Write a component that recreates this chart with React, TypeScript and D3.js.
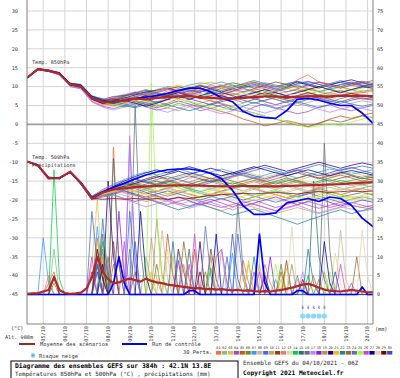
import React from 'react';
import * as d3 from 'd3';

const DATES = ['05/10','06/10','07/10','08/10','09/10','10/10','11/10','12/10','13/10','14/10','15/10','16/10','17/10','18/10','19/10','20/10'];
const LEFT_TICKS = [30,25,20,15,10,5,0,-5,-10,-15,-20,-25,-30,-35,-40,-45];
const RIGHT_TICKS = [75,70,65,60,55,50,45,40,35,30,25,20,15,10,5,0];
const MEMBER_COLORS = ['#ff6633','#80c080','#e0c040','#9050d0','#c05818','#6b8e23','#3399ff','#d2b48c','#4169e1','#c8a060',
  '#8b4513','#ff7070','#e8d890','#00cc44','#2f6f6f','#607080','#c080ff','#8020e0','#a89060','#200080',
  '#f0c000','#2080a0','#996633','#6070b0','#99ff33','#d040d0','#000099','#e8d0b0','#800000','#3050d0'];

// 12-hourly temperatures (0..384h)
const T850_MEAN = [12.3,14.6,14.2,13.4,10.6,10.0,6.9,5.9,5.8,6.4,6.8,6.6,7.0,7.2,7.4,7.5,7.2,7.0,6.8,6.8,7.0,7.2,7.4,7.4,7.2,7.3,7.4,7.5,7.4,7.6,7.5,7.6,7.5];
const T850_CTRL = [12.3,14.6,14.2,13.5,10.5,10.0,6.8,5.8,6.0,6.4,6.8,7.2,7.6,8.2,9.0,9.6,9.6,8.6,7.0,6.0,3.4,2.2,1.8,1.6,3.6,6.6,6.9,6.4,5.6,5.0,5.0,3.0,0.3];
const T850_MEMBERS = [
  [12.3,14.8,14.3,13.6,10.2,9.8,6.6,5.2,5.6,6.8,7.5,8.2,7.6,8.8,9.4,8.6,9.2,10.4,9.6,8.8,9.8,10.2,9.4,8.6,9.6,11.8,13.1,11.2,10.2,9.6,10.4,9.8,10.2],
  [12.3,14.5,14.0,13.2,10.8,10.3,7.2,6.4,7.0,7.8,8.4,7.6,8.0,7.2,6.8,7.6,8.2,7.4,6.6,7.0,7.8,8.6,8.0,7.4,6.8,7.2,8.0,8.8,8.2,7.6,8.4,9.0,8.6],
  [12.3,14.6,14.4,13.0,11.0,10.4,7.6,6.2,5.4,6.0,7.2,8.0,8.8,9.6,8.8,9.4,10.2,9.6,10.0,9.2,8.4,9.0,9.8,10.4,9.6,8.8,9.4,10.0,9.2,9.8,10.6,10.0,9.4],
  [12.3,14.4,14.0,13.8,10.0,9.4,6.0,4.8,4.2,5.0,5.8,4.6,3.8,4.4,5.6,4.8,3.6,4.2,5.2,4.0,3.2,4.6,5.4,4.4,3.6,2.8,3.4,4.6,5.2,4.2,3.6,4.4,5.0],
  [12.3,14.7,14.1,13.4,10.6,10.1,7.0,5.6,5.0,5.8,6.4,5.6,4.8,5.6,6.8,6.0,5.0,4.2,3.4,2.6,1.4,0.6,-0.4,0.2,1.0,0.4,-0.6,0.2,1.4,2.2,1.6,2.4,3.0],
  [12.3,14.6,14.2,13.3,10.4,10.0,6.8,6.0,6.4,7.2,6.6,7.4,8.2,7.6,7.0,7.8,8.6,9.2,8.4,7.8,8.6,9.4,8.8,8.0,8.6,9.2,8.4,7.8,8.4,9.0,8.2,8.8,9.2],
  [12.3,14.5,14.3,13.6,10.9,10.6,7.4,6.6,5.8,6.6,7.8,8.4,9.2,10.0,9.6,10.4,11.0,10.6,11.2,10.4,9.6,10.2,11.0,10.4,9.8,10.6,11.2,10.6,9.8,10.4,11.0,10.2,10.6],
  [12.3,14.7,14.0,13.1,10.3,9.7,6.4,5.4,5.0,6.2,7.0,6.4,5.6,6.4,7.4,8.0,7.2,6.6,7.4,8.2,7.6,6.8,6.2,7.0,7.8,8.4,7.6,6.8,7.4,8.0,7.2,6.6,7.0],
  [12.3,14.6,14.1,13.5,10.5,10.2,7.0,5.8,6.2,5.4,4.6,5.8,7.0,7.8,8.4,9.0,8.4,9.6,10.4,9.8,10.6,11.2,10.4,9.8,10.6,11.4,10.8,10.0,10.8,11.6,10.8,10.2,10.8],
  [12.3,14.5,14.2,13.4,10.7,10.2,7.2,6.2,5.4,4.6,5.2,6.0,5.2,4.4,3.6,4.6,5.6,6.4,5.6,4.8,5.6,6.6,7.4,6.6,5.8,5.0,5.8,6.6,5.8,5.0,5.6,6.2,5.8],
  [12.3,14.8,14.4,13.7,10.4,9.9,6.8,6.0,6.6,7.4,8.2,9.0,8.4,9.2,10.0,9.2,8.6,9.4,10.2,11.0,10.4,9.6,10.4,11.2,10.6,9.8,10.4,11.2,10.6,10.0,10.8,11.4,10.8],
  [12.3,14.6,14.0,13.2,10.1,9.6,6.2,5.0,5.8,6.6,6.0,5.2,6.0,6.8,7.6,8.4,7.8,7.0,7.8,8.6,9.4,8.8,8.0,8.8,9.6,10.4,9.6,8.8,9.4,8.6,7.8,8.4,9.0],
  [12.3,14.5,14.3,13.5,10.6,10.1,6.9,6.4,7.0,6.2,5.6,6.4,7.2,6.4,5.8,6.6,7.4,8.2,7.6,6.8,7.6,8.4,7.8,7.0,6.4,7.2,8.0,7.4,6.6,7.2,7.8,7.0,7.4],
  [12.3,14.7,14.2,13.4,10.5,10.0,7.0,6.0,5.2,4.6,5.4,6.4,7.4,8.2,7.4,6.6,7.6,8.6,9.6,10.4,9.6,8.6,7.8,8.6,9.4,10.2,9.4,8.6,9.4,10.0,9.2,9.8,10.4],
  [12.3,14.6,14.1,13.6,10.8,10.4,7.4,6.8,6.0,5.4,6.2,5.2,4.4,5.2,6.2,5.4,4.6,5.4,6.4,7.2,6.4,5.6,6.4,7.2,6.4,5.8,6.6,7.4,6.6,6.0,6.8,7.6,7.0],
  [12.3,14.5,14.0,13.3,10.4,10.0,6.6,5.6,6.4,7.4,8.4,9.2,8.4,7.6,8.6,9.6,10.4,9.8,9.0,9.8,10.8,11.6,10.8,10.0,10.8,11.4,10.6,9.8,10.6,11.2,10.4,11.0,11.6],
  [12.3,14.8,14.2,13.0,10.0,9.5,6.0,4.6,3.8,4.6,5.6,4.8,4.0,3.2,4.2,5.2,4.4,3.6,2.8,3.6,4.6,3.8,3.0,3.8,4.8,5.6,4.8,4.0,3.2,4.0,4.8,4.2,3.6],
  [12.3,14.6,14.4,13.6,10.6,10.3,7.2,6.2,5.6,6.4,7.4,6.6,5.8,6.6,7.6,6.8,6.0,5.2,6.0,6.8,7.6,6.8,6.0,5.2,6.0,7.0,7.8,7.0,6.2,5.6,6.4,7.0,6.6],
  [12.3,14.5,14.1,13.5,10.5,10.0,6.8,5.6,4.8,5.6,6.6,7.6,6.8,7.8,8.8,8.0,7.2,8.2,9.0,8.2,7.4,8.2,9.2,8.4,7.6,8.6,9.4,8.6,7.8,8.6,9.2,8.4,8.8],
  [12.3,14.7,14.3,13.4,10.2,9.8,6.6,5.4,6.2,7.0,7.8,8.6,9.0,9.6,8.8,9.6,10.2,9.4,8.6,9.4,10.2,11.0,10.2,9.4,10.2,11.2,10.4,9.6,10.4,11.2,11.8,11.0,10.4],
  [12.3,14.6,14.0,13.2,10.6,10.2,7.0,6.2,7.2,8.0,7.2,8.0,8.8,9.6,10.4,9.6,10.6,11.2,10.4,9.6,10.4,11.0,10.2,9.4,10.2,9.6,8.8,9.6,10.4,9.8,9.0,9.6,10.2],
  [12.3,14.5,14.2,13.6,10.9,10.5,7.6,6.6,5.8,5.0,4.4,5.2,6.0,5.2,4.4,3.6,4.4,5.4,4.6,3.8,4.8,5.8,5.0,4.2,5.0,6.0,5.2,4.4,5.2,6.2,5.4,4.8,5.4],
  [12.3,14.7,14.1,13.3,10.3,9.9,6.4,5.8,6.6,7.6,8.4,7.6,6.8,7.8,8.6,7.8,7.0,6.2,5.4,4.6,3.8,3.0,2.2,1.4,0.6,-0.2,-0.6,0.4,1.2,0.6,1.4,2.2,1.8],
  [12.3,14.6,14.3,13.5,10.7,10.3,7.2,6.0,5.4,6.2,7.2,8.2,7.4,6.6,7.4,8.2,9.0,8.2,7.4,6.6,5.8,6.6,7.4,6.6,5.8,6.6,7.6,6.8,6.0,6.8,7.6,6.8,6.4],
  [12.3,14.5,14.0,13.4,10.4,10.0,6.8,5.8,5.2,6.0,7.0,6.2,5.4,4.6,5.4,6.2,5.4,4.6,3.8,4.6,3.8,3.0,2.2,1.4,0.8,0.0,-0.8,-0.4,0.2,-0.4,0.6,1.4,2.0],
  [12.3,14.8,14.2,13.4,10.6,10.2,7.0,6.4,7.0,7.8,8.6,7.8,8.6,9.4,8.6,7.8,8.6,9.4,10.2,9.4,8.6,9.4,10.2,9.4,8.6,9.4,10.4,11.2,10.4,9.6,10.4,11.0,10.4],
  [12.3,14.6,14.1,13.6,10.8,10.4,7.4,6.4,5.6,6.4,5.6,4.8,5.6,6.6,7.4,6.6,7.6,8.4,7.6,6.8,7.6,8.4,9.2,8.4,7.6,8.4,9.2,10.0,9.2,8.4,9.2,10.0,9.6],
  [12.3,14.5,14.3,13.3,10.2,9.8,6.4,5.2,4.6,5.4,6.4,7.2,8.0,7.2,6.4,7.2,8.0,7.2,8.2,9.0,8.2,7.4,8.2,9.0,8.2,7.4,8.2,9.0,8.2,7.6,8.4,9.0,8.6],
  [12.3,14.7,14.2,13.5,10.5,10.1,7.0,6.2,6.8,6.0,6.8,7.6,6.8,7.6,8.4,7.6,6.8,7.6,8.4,7.6,6.8,7.6,8.4,7.6,6.8,7.6,8.4,7.6,7.0,7.6,8.2,7.6,7.2],
  [12.3,14.6,14.0,13.4,10.6,10.2,7.2,6.6,7.4,7.6,8.0,8.6,8.0,7.4,8.0,8.8,9.6,8.8,8.0,8.8,9.8,10.6,9.8,9.0,9.8,10.8,11.4,10.6,9.8,10.6,11.2,10.4,10.0],
];

const T500_MEAN = [-9.8,-10.8,-14.3,-14.2,-12.5,-15.6,-19.6,-18.0,-17.2,-16.9,-16.6,-16.4,-16.3,-16.2,-16.1,-16.1,-16.2,-16.3,-16.4,-16.4,-16.3,-16.3,-16.4,-16.4,-16.3,-16.2,-16.1,-16.0,-15.9,-15.8,-15.6,-15.4,-15.3];
const T500_CTRL = [-9.8,-10.8,-14.2,-14.2,-12.6,-15.6,-19.4,-17.8,-16.6,-15.6,-14.4,-13.4,-12.6,-12.0,-11.8,-11.8,-12.2,-13.0,-14.4,-17.4,-21.6,-23.8,-23.8,-23.4,-20.8,-20.2,-19.6,-20.4,-19.2,-19.6,-21.4,-24.8,-27.0];
const T500_MEMBERS = [
  [-9.8,-10.9,-14.0,-14.4,-12.4,-15.2,-19.0,-17.4,-16.0,-14.8,-15.6,-14.4,-13.6,-14.6,-15.4,-14.2,-13.4,-14.4,-15.2,-14.0,-13.2,-14.0,-14.8,-13.8,-13.0,-12.2,-13.4,-14.2,-13.2,-12.6,-13.6,-14.4,-13.8],
  [-9.8,-10.7,-14.4,-14.0,-12.8,-15.8,-19.8,-18.6,-17.8,-17.0,-16.2,-17.0,-17.8,-17.0,-16.2,-17.0,-17.8,-18.6,-17.8,-17.0,-16.4,-17.2,-18.0,-17.2,-16.4,-17.2,-18.0,-17.2,-16.6,-17.4,-16.6,-16.0,-16.6],
  [-9.8,-10.8,-14.2,-14.3,-12.5,-15.4,-19.2,-18.0,-16.8,-15.6,-14.4,-13.2,-14.0,-14.8,-14.0,-13.2,-14.0,-14.8,-14.0,-13.2,-12.4,-13.2,-14.0,-13.2,-14.0,-14.8,-14.0,-13.2,-14.0,-13.2,-12.6,-13.4,-14.0],
  [-9.8,-11.0,-14.3,-14.1,-12.7,-15.9,-20.0,-19.2,-18.6,-19.6,-20.4,-19.6,-18.8,-19.8,-20.8,-21.6,-20.6,-19.8,-20.8,-21.8,-20.8,-20.0,-21.0,-22.0,-21.2,-20.4,-21.4,-22.2,-21.4,-20.6,-21.4,-22.0,-21.4],
  [-9.8,-10.9,-14.1,-14.2,-12.6,-15.6,-19.4,-18.4,-17.6,-16.8,-17.6,-18.4,-17.6,-16.8,-17.6,-18.4,-19.2,-18.4,-17.6,-16.8,-15.8,-16.8,-17.8,-18.6,-19.4,-18.6,-17.8,-17.0,-17.8,-18.6,-17.8,-17.0,-17.6],
  [-9.8,-10.8,-14.2,-14.3,-12.5,-15.5,-19.3,-18.2,-17.2,-16.4,-15.6,-16.4,-15.6,-14.8,-15.6,-16.4,-15.6,-14.8,-15.6,-16.4,-15.6,-14.8,-15.6,-16.4,-15.6,-14.8,-15.6,-16.4,-15.6,-14.8,-15.4,-16.0,-15.4],
  [-9.8,-10.6,-13.8,-14.4,-12.4,-15.2,-19.0,-17.2,-15.8,-14.6,-13.4,-12.6,-13.4,-12.6,-11.8,-12.6,-13.4,-12.6,-11.8,-12.6,-13.4,-14.2,-13.4,-12.6,-13.4,-14.2,-13.4,-12.6,-11.8,-12.4,-13.2,-12.6,-12.0],
  [-9.8,-10.9,-14.4,-14.0,-12.8,-15.8,-19.6,-18.8,-18.0,-17.2,-18.0,-17.2,-16.4,-17.2,-18.0,-17.2,-16.4,-17.2,-18.0,-18.8,-18.0,-17.2,-16.4,-17.2,-18.0,-17.2,-16.4,-17.2,-18.0,-17.2,-16.6,-17.4,-17.0],
  [-9.8,-10.8,-14.1,-14.3,-12.6,-15.6,-19.4,-18.2,-17.0,-15.8,-14.6,-15.4,-14.6,-13.8,-14.6,-15.4,-16.2,-15.4,-14.6,-13.8,-13.0,-12.2,-11.4,-12.2,-13.0,-12.2,-11.4,-10.6,-11.4,-12.2,-11.6,-11.0,-11.6],
  [-9.8,-10.7,-14.3,-14.2,-12.7,-15.7,-19.5,-18.6,-18.0,-18.8,-19.6,-20.4,-19.6,-20.4,-21.2,-20.4,-21.2,-22.0,-22.8,-22.0,-21.2,-22.0,-22.8,-23.6,-22.8,-22.0,-22.8,-23.6,-22.8,-22.0,-21.4,-22.0,-22.6],
  [-9.8,-10.9,-14.2,-14.1,-12.6,-15.5,-19.2,-17.8,-16.6,-15.8,-16.6,-15.8,-15.0,-15.8,-16.6,-15.8,-15.0,-14.2,-15.0,-15.8,-15.0,-14.2,-15.0,-15.8,-15.0,-14.2,-13.4,-14.2,-15.0,-14.2,-13.6,-14.4,-14.0],
  [-9.8,-10.8,-14.0,-14.4,-12.4,-15.4,-19.3,-18.4,-17.6,-16.8,-16.0,-16.8,-17.6,-18.4,-17.6,-16.8,-16.0,-16.8,-17.6,-16.8,-16.0,-15.2,-16.0,-16.8,-16.0,-15.2,-16.0,-16.8,-16.0,-15.4,-16.2,-15.6,-15.0],
  [-9.8,-10.8,-14.3,-14.2,-12.6,-15.7,-19.6,-18.4,-17.4,-18.2,-19.0,-18.2,-17.4,-18.2,-19.0,-19.8,-19.0,-18.2,-19.0,-19.8,-19.0,-18.2,-19.0,-19.8,-20.6,-19.8,-19.0,-19.8,-20.6,-19.8,-19.0,-19.6,-20.2],
  [-9.8,-10.7,-14.2,-14.3,-12.5,-15.6,-19.4,-18.0,-16.6,-15.4,-16.2,-17.0,-16.2,-15.4,-16.2,-17.0,-17.8,-17.0,-16.2,-15.4,-16.2,-17.0,-16.2,-15.4,-14.6,-15.4,-16.2,-15.4,-14.6,-15.4,-14.8,-14.2,-14.8],
  [-9.8,-10.9,-14.1,-14.2,-12.7,-15.8,-19.8,-19.0,-18.4,-17.6,-18.4,-19.2,-18.4,-17.6,-18.4,-19.2,-20.0,-19.2,-18.4,-19.2,-20.0,-19.2,-18.4,-17.6,-18.4,-19.2,-18.4,-17.6,-18.4,-19.2,-18.6,-18.0,-18.6],
  [-9.8,-10.8,-14.2,-14.2,-12.6,-15.6,-19.4,-18.2,-17.2,-16.2,-15.2,-14.4,-13.6,-14.4,-13.6,-12.8,-13.6,-14.4,-13.6,-12.8,-13.6,-14.4,-15.2,-14.4,-13.6,-12.8,-13.6,-14.4,-13.6,-12.8,-13.4,-14.0,-13.4],
  [-9.8,-10.8,-14.4,-14.0,-12.8,-15.9,-19.8,-19.0,-18.8,-19.8,-20.8,-21.8,-21.0,-20.2,-21.2,-22.2,-21.4,-20.6,-21.6,-22.6,-21.8,-21.0,-22.0,-23.0,-22.2,-21.4,-22.4,-23.4,-22.6,-21.8,-22.4,-23.0,-22.4],
  [-9.8,-10.9,-14.2,-14.3,-12.5,-15.4,-19.2,-18.0,-17.0,-16.0,-17.0,-18.0,-19.0,-20.0,-19.2,-20.2,-21.2,-20.4,-19.6,-20.6,-21.6,-20.8,-20.0,-19.2,-20.2,-21.2,-20.4,-19.6,-20.6,-21.6,-20.8,-20.0,-20.6],
  [-9.8,-10.7,-14.1,-14.2,-12.6,-15.6,-19.4,-18.4,-17.6,-16.8,-16.0,-15.2,-16.0,-16.8,-16.0,-15.2,-14.4,-15.2,-16.0,-16.8,-17.6,-16.8,-16.0,-15.2,-16.0,-16.8,-17.6,-16.8,-16.0,-16.8,-17.4,-16.8,-16.2],
  [-9.8,-10.8,-14.3,-14.2,-12.6,-15.6,-19.4,-18.2,-17.2,-16.4,-15.6,-14.8,-14.0,-13.2,-12.4,-13.2,-12.4,-11.6,-12.4,-13.2,-12.4,-11.6,-10.8,-11.6,-12.4,-11.6,-10.8,-10.0,-10.8,-11.6,-10.8,-10.2,-10.8],
  [-9.8,-10.9,-14.2,-14.1,-12.7,-15.7,-19.6,-18.6,-17.8,-17.0,-17.8,-18.6,-19.4,-18.6,-17.8,-18.6,-19.4,-18.6,-17.8,-18.6,-19.4,-20.2,-19.4,-18.6,-19.4,-20.2,-19.4,-18.6,-17.8,-18.6,-19.4,-18.8,-18.2],
  [-9.8,-10.8,-14.0,-14.4,-12.4,-15.3,-19.1,-17.8,-16.8,-17.6,-18.6,-19.6,-20.6,-21.6,-22.6,-21.8,-21.0,-22.0,-23.0,-24.0,-23.2,-22.4,-23.4,-24.4,-25.4,-26.4,-25.4,-24.4,-23.4,-22.6,-23.6,-22.8,-22.0],
  [-9.8,-10.8,-14.2,-14.2,-12.6,-15.6,-19.4,-18.2,-17.4,-16.6,-15.8,-16.6,-15.8,-15.0,-15.8,-16.6,-15.8,-15.0,-14.2,-15.0,-15.8,-16.6,-15.8,-15.0,-14.2,-15.0,-15.8,-15.0,-14.2,-13.4,-14.2,-15.0,-14.4],
  [-9.8,-10.7,-14.3,-14.1,-12.7,-15.8,-19.7,-18.8,-18.2,-17.4,-16.6,-17.4,-18.2,-19.0,-18.2,-17.4,-18.2,-19.0,-19.8,-19.0,-18.2,-19.0,-19.8,-20.6,-19.8,-19.0,-18.2,-19.0,-19.8,-20.6,-19.8,-19.2,-19.8],
  [-9.8,-10.9,-14.1,-14.3,-12.5,-15.5,-19.3,-18.0,-16.8,-16.0,-16.8,-17.6,-16.8,-16.0,-16.8,-17.6,-18.4,-17.6,-16.8,-17.6,-18.4,-19.2,-18.4,-17.6,-18.4,-19.2,-20.0,-19.2,-18.4,-19.2,-20.0,-19.4,-18.8],
  [-9.8,-10.8,-14.2,-14.2,-12.6,-15.6,-19.4,-18.2,-17.2,-18.0,-18.8,-19.6,-20.4,-21.2,-20.4,-19.6,-20.4,-21.2,-22.0,-21.2,-20.4,-21.2,-22.0,-22.8,-22.0,-21.2,-20.4,-21.2,-22.0,-21.2,-20.6,-21.4,-22.0],
  [-9.8,-10.8,-14.3,-14.2,-12.6,-15.6,-19.4,-18.0,-16.4,-15.0,-13.8,-12.8,-12.0,-12.8,-12.0,-11.2,-12.0,-12.8,-13.6,-12.8,-12.0,-11.2,-12.0,-12.8,-13.6,-12.8,-12.0,-12.8,-13.6,-12.8,-12.2,-12.8,-13.4],
  [-9.8,-10.7,-14.2,-14.3,-12.5,-15.5,-19.3,-18.4,-17.6,-16.8,-17.6,-16.8,-16.0,-16.8,-17.6,-18.4,-17.6,-16.8,-17.6,-18.4,-17.6,-16.8,-17.6,-18.4,-17.6,-16.8,-17.6,-18.4,-17.6,-16.8,-17.4,-18.0,-17.4],
  [-9.8,-10.9,-14.1,-14.2,-12.7,-15.7,-19.6,-19.8,-19.6,-19.8,-19.6,-19.8,-19.6,-19.8,-19.4,-19.6,-19.2,-18.8,-18.6,-18.4,-18.2,-18.4,-18.2,-18.0,-18.2,-18.4,-18.0,-17.8,-18.0,-17.8,-17.6,-17.8,-17.6],
  [-9.8,-10.8,-14.2,-14.2,-12.6,-15.6,-19.4,-18.2,-16.8,-15.6,-14.4,-15.2,-16.0,-15.2,-14.4,-13.6,-14.4,-15.2,-14.4,-13.6,-12.8,-13.6,-14.4,-13.6,-12.8,-12.0,-12.8,-13.6,-12.8,-12.0,-11.4,-12.2,-13.0],
];

// 6-hourly precipitation (0..384h)
const PRECIP_MEAN = [0.2,0.3,0.3,0.8,1.2,4.5,1.2,0.4,0.2,0.3,0.5,1.6,4.5,10.0,6.0,4.0,3.0,3.2,3.8,4.2,3.8,3.4,4.2,3.6,3.2,3.0,2.6,2.4,2.2,2.0,1.8,1.6,1.7,1.4,1.5,1.3,1.4,1.2,1.1,1.2,1.0,1.1,0.9,0.8,0.9,0.8,1.0,1.2,1.5,1.8,2.2,2.6,2.8,2.4,1.8,1.3,1.0,0.9,0.8,1.0,1.2,1.0,0.8,0.6,0.6];
// [step index (6h), mm]
const PRECIP_CTRL_SPIKES = [[16,3],[17,10],[18,3],[30,1],[31,1],[43,16],[44,3],[50,1],[51,1],[62,2]];
const PRECIP_MEMBER_SPIKES = [
  [[4,3],[5,6],[13,15],[14,4],[16,39],[17,8],[40,9],[41,3],[53,5]],
  [[5,12],[22,10],[23,3],[44,6],[50,4]],
  [[12,8],[13,25],[14,6],[27,10],[48,7],[56,3]],
  [[13,12],[14,4],[19,40],[20,10],[30,8],[42,6],[60,3]],
  [[15,10],[20,6],[26,16],[27,5],[31,12],[35,10],[36,12],[37,3]],
  [[5,3],[14,12],[24,8],[33,6],[47,8],[54,4]],
  [[3,15],[4,3],[13,18],[14,5],[28,12],[38,11],[46,4]],
  [[14,8],[25,17],[26,4],[41,8],[58,17],[59,4]],
  [[12,22],[13,8],[19,22],[20,6],[37,10],[39,16],[40,4]],
  [[15,6],[23,15],[24,4],[43,8],[55,6]],
  [[13,6],[16,14],[28,12],[29,6],[34,12],[35,4],[48,9]],
  [[4,5],[14,10],[29,8],[44,8],[45,3]],
  [[13,6],[26,12],[40,5],[57,11],[58,3]],
  [[5,33],[6,4],[14,14],[15,6],[34,7],[52,5]],
  [[13,10],[16,36],[17,8],[30,12],[53,30],[54,10],[55,4]],
  [[14,16],[20,50],[21,12],[39,24],[40,6],[55,40],[56,12]],
  [[15,8],[19,42],[20,8],[36,12],[51,6]],
  [[12,6],[17,22],[18,5],[28,9],[45,10]],
  [[14,12],[24,20],[25,5],[34,10],[49,8]],
  [[13,8],[15,30],[16,10],[32,14],[44,5]],
  [[13,14],[14,8],[23,6],[41,9],[47,4]],
  [[14,20],[15,4],[27,14],[42,10],[52,12],[53,3]],
  [[16,8],[29,14],[30,4],[47,6],[61,10]],
  [[13,8],[19,12],[33,18],[34,5],[50,5]],
  [[14,6],[23,56],[24,20],[25,4],[46,8],[56,6]],
  [[12,10],[18,14],[31,16],[43,6],[58,8]],
  [[14,8],[21,22],[22,5],[35,16],[55,14],[56,3]],
  [[13,5],[26,10],[49,18],[62,17],[63,5]],
  [[5,5],[13,12],[14,4],[32,6],[51,4]],
  [[13,6],[20,14],[38,16],[39,4],[57,6]],
];
const SNOW_STEPS = [51,52,53,54,55];
const LEGEND_NUMBERS = ['01','02','03','04','05','06','07','08','09','10','11','12','13','14','15','16','17','18','19','20','21','22','23','24','25','26','27','28','29','30'];

const W = 400, H = 378;
const PL = 27, PR = 373, PB = 324;
const MONO = '"DejaVu Sans Mono", monospace';

export default function App() {
  const x = d3.scaleLinear().domain([0, 384]).range([PL, PR]);
  const yT = d3.scaleLinear().domain([30, -45]).range([11, 294.5]);
  const yP = d3.scaleLinear().domain([0, 75]).range([294.5, 11]);

  const lineT = d3.line<number>().x((_, i) => x(i * 12)).y(d => yT(d));
  const lineP = d3.line<number>().x((_, i) => x(i * 6)).y(d => yP(d));

  const expand = (spikes: number[][]) => {
    const arr = new Array(65).fill(0);
    spikes.forEach(([i, v]) => { arr[i] = v; });
    return arr;
  };
  const precipMembers = PRECIP_MEMBER_SPIKES.map(expand);
  const precipCtrl = expand(PRECIP_CTRL_SPIKES);

  const dayTicks = DATES.map((_, i) => 18 + i * 24);

  return (
    <svg width={W} height={H} style={{ position: 'absolute', left: 0, top: 0, background: '#fff' }}>
      <rect x={0} y={0} width={W} height={H} fill="#fff" />
      <defs>
        <clipPath id="plot"><rect x={PL} y={0} width={PR - PL} height={PB} /></clipPath>
      </defs>
      {LEFT_TICKS.map(t => (
        <line key={'h' + t} x1={PL} x2={PR} y1={yT(t)} y2={yT(t)} stroke="#d4d4d4" strokeWidth={1} />
      ))}
      {dayTicks.map(h => (
        <line key={'v' + h} x1={x(h)} x2={x(h)} y1={0} y2={PB} stroke="#d4d4d4" strokeWidth={1} />
      ))}
      <line x1={PL} x2={PR} y1={yT(0)} y2={yT(0)} stroke="#a0a0a0" strokeWidth={1.6} />
      <line x1={PL} x2={PR} y1={yP(0)} y2={yP(0)} stroke="#a0a0a0" strokeWidth={1.6} />

      <g clipPath="url(#plot)" fill="none" strokeLinejoin="round">
        {precipMembers.map((d, i) => (
          <path key={'p' + i} d={lineP(d) || ''} stroke={MEMBER_COLORS[i]} strokeWidth={0.75} />
        ))}
        {T500_MEMBERS.map((d, i) => (
          <path key={'b' + i} d={lineT(d) || ''} stroke={MEMBER_COLORS[i]} strokeWidth={0.75} />
        ))}
        {T850_MEMBERS.map((d, i) => (
          <path key={'a' + i} d={lineT(d) || ''} stroke={MEMBER_COLORS[i]} strokeWidth={0.75} />
        ))}
        <path d={lineP(precipCtrl) || ''} stroke="#0000ff" strokeWidth={1.7} />
        <path d={lineT(T500_CTRL) || ''} stroke="#0000ff" strokeWidth={1.7} />
        <path d={lineT(T850_CTRL) || ''} stroke="#0000ff" strokeWidth={1.7} />
        <path d={lineP(PRECIP_MEAN) || ''} stroke="#b02828" strokeWidth={2.2} />
        <path d={lineT(T500_MEAN) || ''} stroke="#b02828" strokeWidth={2.2} />
        <path d={lineT(T850_MEAN) || ''} stroke="#b02828" strokeWidth={2.2} />
      </g>

      <line x1={PL} x2={PL} y1={0} y2={PB} stroke="#808080" strokeWidth={1} />
      <line x1={PR} x2={PR} y1={0} y2={PB} stroke="#808080" strokeWidth={1} />
      <line x1={PL} x2={PR} y1={PB} y2={PB} stroke="#808080" strokeWidth={1} />

      {SNOW_STEPS.map(s => (
        <g key={'s' + s}>
          <circle cx={x(s * 6)} cy={316} r={2.6} fill="#8fd8f8" />
          <text x={x(s * 6)} y={309} fontSize={4.5} fontFamily={MONO} fill="#3030e0" textAnchor="middle">ŝ</text>
        </g>
      ))}

      <g fontFamily={MONO} fontSize={5.2} fill="#333">
        {LEFT_TICKS.map(t => (
          <text key={'lt' + t} x={18} y={yT(t) + 1.8} textAnchor="end">{t}</text>
        ))}
        {RIGHT_TICKS.map(t => (
          <text key={'rt' + t} x={377} y={yP(t) + 1.8}>{t}</text>
        ))}
        {DATES.map((d, i) => (
          <text key={'d' + d} transform={`translate(${x(dayTicks[i]) + 1.8},326) rotate(-90)`} textAnchor="end">{d}</text>
        ))}
        <text x={11} y={330}>(°C)</text>
        <text x={5} y={339}>Alt. 988m</text>
        <text x={375} y={331}>(mm)</text>
        <text x={32} y={63.5}>Temp. 850hPa</text>
        <text x={32} y={158.5}>Temp. 500hPa</text>
        <text x={32} y={166.5}>Précipitations</text>
      </g>

      <line x1={19} x2={35} y1={344} y2={344} stroke="#a02828" strokeWidth={2} />
      <text x={40} y={346} fontFamily={MONO} fontSize={5.4} fill="#333">Moyenne des scénarios</text>
      <line x1={122} x2={147} y1={344} y2={344} stroke="#0000ff" strokeWidth={2} />
      <text x={152} y={346} fontFamily={MONO} fontSize={5.4} fill="#333">Run de contrôle</text>
      <circle cx={33} cy={355.5} r={2.4} fill="#8fd8f8" />
      <circle cx={33} cy={355.5} r={0.9} fill="#3a9ad8" />
      <text x={39} y={357.5} fontFamily={MONO} fontSize={5.4} fill="#333">Risque neige</text>
      <text x={183} y={354} fontFamily={MONO} fontSize={5.4} fill="#333">30 Perts.</text>
      {LEGEND_NUMBERS.map((n, i) => (
        <g key={'ln' + n}>
          <text x={218.5 + i * 5.9} y={349} fontFamily={MONO} fontSize={3.6} fill="#333" textAnchor="middle">{n}</text>
          <rect x={216 + i * 5.9} y={351} width={5.2} height={3.6} fill={MEMBER_COLORS[i]} />
        </g>
      ))}

      <rect x={11} y={361} width={227} height={22} fill="#fff" stroke="#000" strokeWidth={1} />
      <text x={15} y={368} fontFamily={MONO} fontSize={6.4} fontWeight="bold" fill="#000">Diagramme des ensembles GEFS sur 384h : 42.1N 13.8E</text>
      <text x={15} y={376} fontFamily={MONO} fontSize={5.8} fill="#222">Températures 850hPa et 500hPa (°C) , précipitations (mm)</text>
      <text x={243} y={365} fontFamily={MONO} fontSize={5.8} fill="#222">Ensemble GEFS du 04/10/2021 - 06Z</text>
      <text x={243} y={375} fontFamily={MONO} fontSize={6.2} fontWeight="bold" fill="#000">Copyright 2021 Meteociel.fr</text>
    </svg>
  );
}
